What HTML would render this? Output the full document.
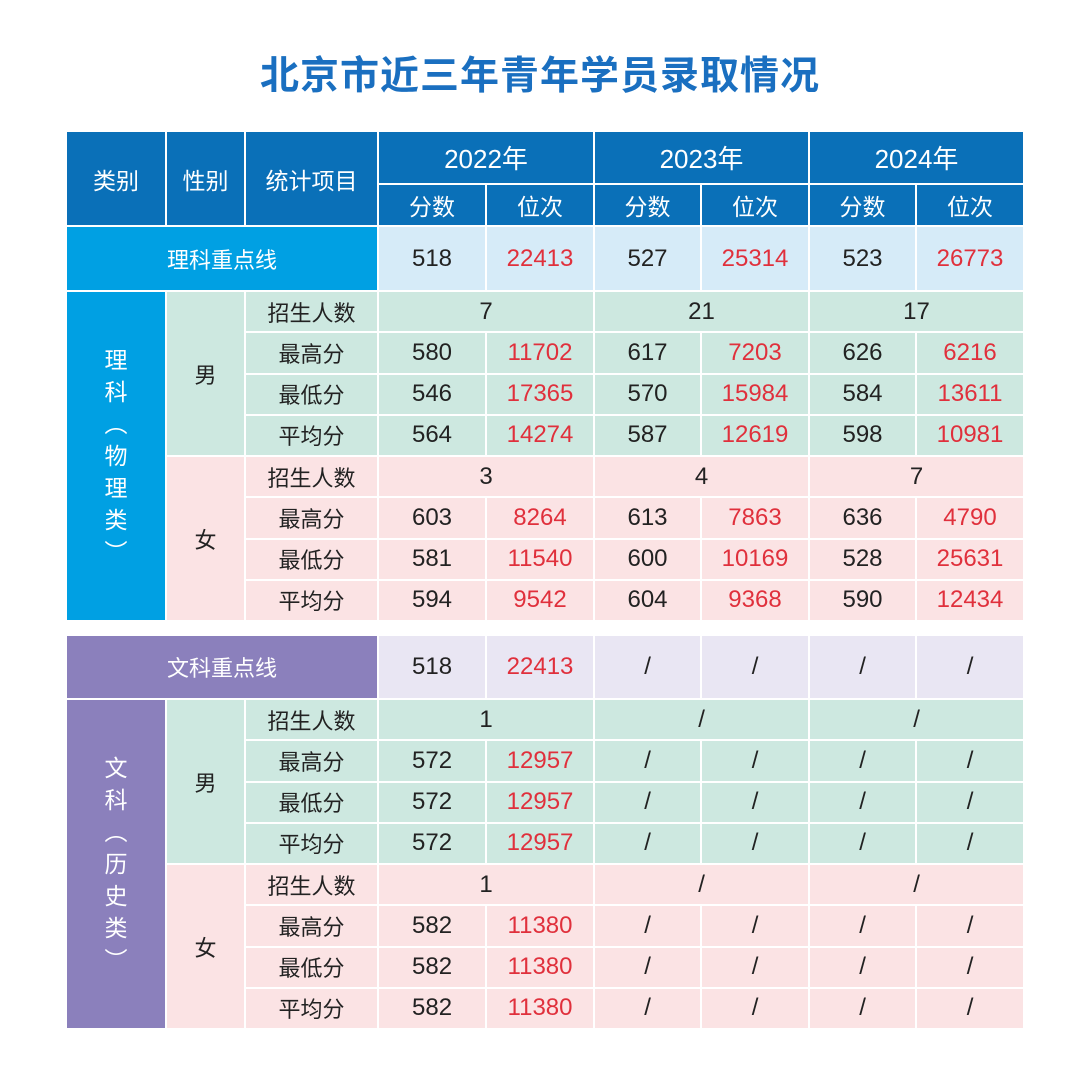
<!DOCTYPE html>
<html><head><meta charset="utf-8"><style>
body{margin:0;width:1080px;height:1080px;background:#fff;font-family:"Liberation Sans","Noto Sans CJK SC",sans-serif;position:relative;overflow:hidden}
h1{position:absolute;top:45px;left:0;width:1080px;text-align:center;margin:0;font-size:39px;font-weight:bold;color:#1a6fc0;letter-spacing:1px;font-family:"Liberation Sans","Noto Sans CJK SC",sans-serif}
table{position:absolute;left:65px;border-collapse:collapse;table-layout:fixed;width:960px}
td{border:2px solid #fff;text-align:center;padding:0;font-size:24px;color:#222;overflow:hidden}
.h{background:#0a70b8;color:#fff;font-size:23px}
.c{background:#00a0e3;color:#fff;font-size:22px}
.lc{background:#d6ebf8}
.p{background:#8b80bc;color:#fff;font-size:22px}
.lp{background:#e9e6f3}
.g{background:#cde8e0}
.k{background:#fbe3e4}
.r{color:#e0303c}
.lb{font-size:22px}
.v{line-height:32px;font-size:23px}
tr.d td{height:39.25px}
</style></head><body>
<h1>北京市近三年青年学员录取情况</h1>
<table style="top:130px">
<colgroup><col style="width:100px"><col style="width:79px"><col style="width:133px"><col style="width:108px"><col style="width:108px"><col style="width:107px"><col style="width:108px"><col style="width:107px"><col style="width:108px"></colgroup>
<tr style="height:53px"><td class="h" rowspan="2">类别</td><td class="h" rowspan="2">性别</td><td class="h" rowspan="2">统计项目</td><td class="h" colspan="2" style="font-size:26px">2022年</td><td class="h" colspan="2" style="font-size:26px">2023年</td><td class="h" colspan="2" style="font-size:26px">2024年</td></tr>
<tr style="height:42px"><td class="h">分数</td><td class="h">位次</td><td class="h">分数</td><td class="h">位次</td><td class="h">分数</td><td class="h">位次</td></tr>
<tr style="height:65px"><td class="c" colspan="3">理科重点线</td><td class="lc">518</td><td class="lc r">22413</td><td class="lc">527</td><td class="lc r">25314</td><td class="lc">523</td><td class="lc r">26773</td></tr>
<tr class="d"><td class="c v" rowspan="8">理<br>科<br>︵<br>物<br>理<br>类<br>︶</td><td class="g lb" rowspan="4">男</td><td class="g lb">招生人数</td><td class="g" colspan="2">7</td><td class="g" colspan="2">21</td><td class="g" colspan="2">17</td></tr>
<tr class="d"><td class="g lb">最高分</td><td class="g">580</td><td class="g r">11702</td><td class="g">617</td><td class="g r">7203</td><td class="g">626</td><td class="g r">6216</td></tr>
<tr class="d"><td class="g lb">最低分</td><td class="g">546</td><td class="g r">17365</td><td class="g">570</td><td class="g r">15984</td><td class="g">584</td><td class="g r">13611</td></tr>
<tr class="d"><td class="g lb">平均分</td><td class="g">564</td><td class="g r">14274</td><td class="g">587</td><td class="g r">12619</td><td class="g">598</td><td class="g r">10981</td></tr>
<tr class="d"><td class="k lb" rowspan="4">女</td><td class="k lb">招生人数</td><td class="k" colspan="2">3</td><td class="k" colspan="2">4</td><td class="k" colspan="2">7</td></tr>
<tr class="d"><td class="k lb">最高分</td><td class="k">603</td><td class="k r">8264</td><td class="k">613</td><td class="k r">7863</td><td class="k">636</td><td class="k r">4790</td></tr>
<tr class="d"><td class="k lb">最低分</td><td class="k">581</td><td class="k r">11540</td><td class="k">600</td><td class="k r">10169</td><td class="k">528</td><td class="k r">25631</td></tr>
<tr class="d"><td class="k lb">平均分</td><td class="k">594</td><td class="k r">9542</td><td class="k">604</td><td class="k r">9368</td><td class="k">590</td><td class="k r">12434</td></tr>
</table>
<table style="top:634px">
<colgroup><col style="width:100px"><col style="width:79px"><col style="width:133px"><col style="width:108px"><col style="width:108px"><col style="width:107px"><col style="width:108px"><col style="width:107px"><col style="width:108px"></colgroup>
<tr style="height:64px"><td class="p" colspan="3">文科重点线</td><td class="lp">518</td><td class="lp r">22413</td><td class="lp">/</td><td class="lp">/</td><td class="lp">/</td><td class="lp">/</td></tr>
<tr class="d"><td class="p v" rowspan="8">文<br>科<br>︵<br>历<br>史<br>类<br>︶</td><td class="g lb" rowspan="4">男</td><td class="g lb">招生人数</td><td class="g" colspan="2">1</td><td class="g" colspan="2">/</td><td class="g" colspan="2">/</td></tr>
<tr class="d"><td class="g lb">最高分</td><td class="g">572</td><td class="g r">12957</td><td class="g">/</td><td class="g">/</td><td class="g">/</td><td class="g">/</td></tr>
<tr class="d"><td class="g lb">最低分</td><td class="g">572</td><td class="g r">12957</td><td class="g">/</td><td class="g">/</td><td class="g">/</td><td class="g">/</td></tr>
<tr class="d"><td class="g lb">平均分</td><td class="g">572</td><td class="g r">12957</td><td class="g">/</td><td class="g">/</td><td class="g">/</td><td class="g">/</td></tr>
<tr class="d"><td class="k lb" rowspan="4">女</td><td class="k lb">招生人数</td><td class="k" colspan="2">1</td><td class="k" colspan="2">/</td><td class="k" colspan="2">/</td></tr>
<tr class="d"><td class="k lb">最高分</td><td class="k">582</td><td class="k r">11380</td><td class="k">/</td><td class="k">/</td><td class="k">/</td><td class="k">/</td></tr>
<tr class="d"><td class="k lb">最低分</td><td class="k">582</td><td class="k r">11380</td><td class="k">/</td><td class="k">/</td><td class="k">/</td><td class="k">/</td></tr>
<tr class="d"><td class="k lb">平均分</td><td class="k">582</td><td class="k r">11380</td><td class="k">/</td><td class="k">/</td><td class="k">/</td><td class="k">/</td></tr>
</table>
</body></html>
